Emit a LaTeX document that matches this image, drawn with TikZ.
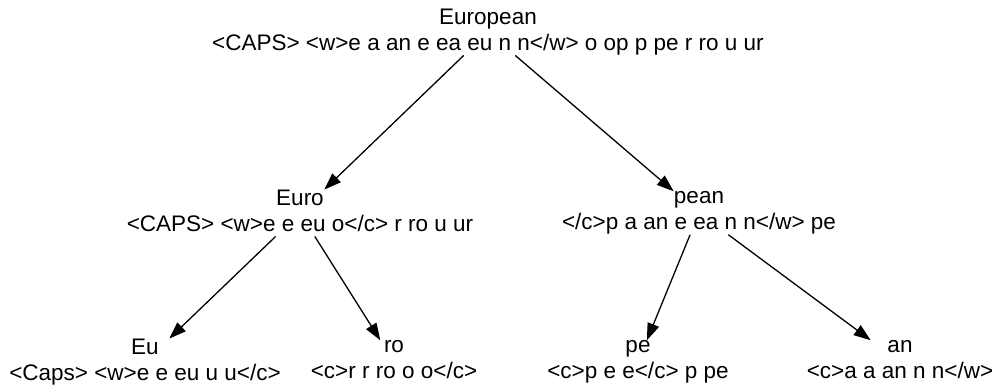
\documentclass[tikz,border=0pt]{standalone}
\usepackage{fontspec}
\setmainfont{Liberation Sans}
\usetikzlibrary{arrows.meta}

\begin{document}
\begin{tikzpicture}[x=1pt,y=-1pt,
    wordnode/.style={inner sep=0pt, align=center,
        font=\fontsize{22.5}{26}\selectfont,
        execute at begin node={\rule{0pt}{19pt}},
        execute at end node={\rule[-5pt]{0pt}{5pt}}},
    split/.style={-{Triangle[length=17pt,width=12pt]}, line width=1.3pt}]

  \useasboundingbox (0,0) rectangle (993,387);

  %% Root
  \node[wordnode] (european) at (488,32)
    {European\\<CAPS> <w>e a an e ea eu n n</w> o op p pe r ro u ur};

  %% Level 1
  \node[wordnode] (euro) at (300,213)
    {Euro\\<CAPS> <w>e e eu o</c> r ro u ur};
  \node[wordnode] (pean) at (699,213)
    {pean\\</c>p a an e ea n n</w> pe};

  %% Level 2
  \node[wordnode] (eu) at (145,362) {Eu\\<Caps> <w>e e eu u u</c>};
  \node[wordnode] (ro) at (394,362) {ro\\<c>r r ro o o</c>};
  \node[wordnode] (pe) at (638,362) {pe\\<c>p e e</c> p pe};
  \node[wordnode] (an) at (900,362) {an\\<c>a a an n n</w>};

  %% Splits
  \draw[split] (european) -- (euro);
  \draw[split] (european) -- (pean);
  \draw[split] (euro) -- (eu);
  \draw[split] (euro) -- (ro);
  \draw[split] (pean) -- (pe);
  \draw[split] (pean) -- (an);

\end{tikzpicture}
\end{document}
